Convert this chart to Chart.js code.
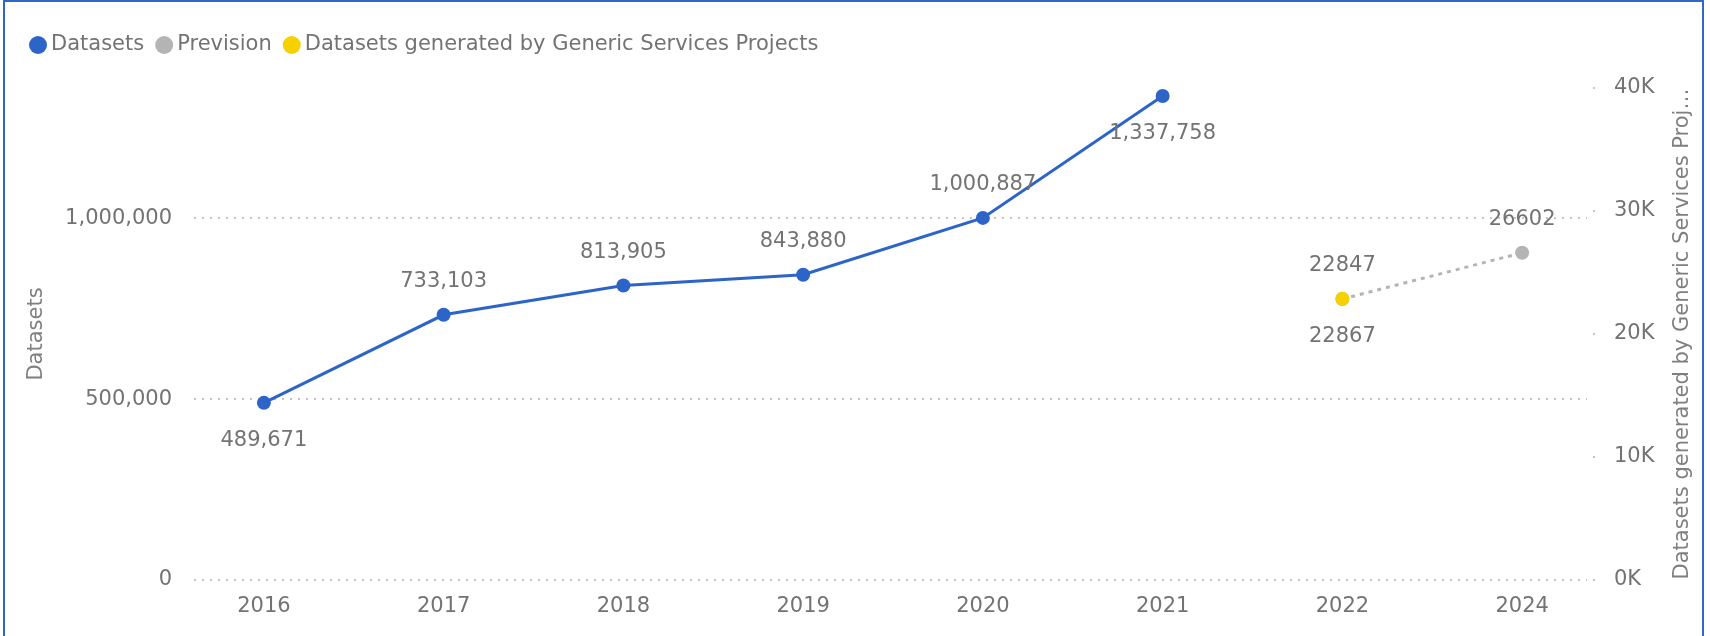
<!DOCTYPE html>
<html>
<head>
<meta charset="utf-8">
<script src="https://cdn.jsdelivr.net/npm/chart.js@4.4.1/dist/chart.umd.min.js"></script>
<style>
  html, body { margin: 0; padding: 0; background: #fff; }
  #wrap { position: relative; width: 1710px; height: 636px; overflow: hidden; }
  #lineChart { position: absolute; left: 0; top: 0; }
  /* blue frame round the visual */
  #frame { position: absolute; left: 3px; top: 0; width: 1701px; height: 660px;
           border: 2px solid #2f68c8; box-sizing: border-box; pointer-events: none; }
</style>
</head>
<body>
<div id="wrap">
  <canvas id="lineChart" width="1710" height="636"></canvas>
  <div id="frame"></div>
</div>
<script>
/* Data */
const years = ["2016", "2017", "2018", "2019", "2020", "2021", "2022", "2024"];
const datasetsCount = [489671, 733103, 813905, 843880, 1000887, 1337758, null, null];
const previsionCount = [null, null, null, null, null, null, 22847, 26602];
const genericCount = [null, null, null, null, null, null, 22867, null];
const leftTicks = [0, 500000, 1000000];
const rightTicks = [0, 10000, 20000, 30000, 40000];

const textGrey = "#737373";
const fontFamily = "'DejaVu Sans', Verdana, sans-serif";
const fontSize = 21;

Chart.defaults.font.family = fontFamily;
Chart.defaults.font.size = fontSize;
Chart.defaults.color = textGrey;

/* Value labels next to each point */
const valueLabels = {
  id: "valueLabels",
  afterDatasetsDraw(chart) {
    const c = chart.ctx;
    c.save();
    c.font = fontSize + "px " + fontFamily;
    c.fillStyle = textGrey;
    c.textAlign = "center";
    c.textBaseline = "middle";
    chart.data.datasets.forEach((ds, i) => {
      const meta = chart.getDatasetMeta(i);
      meta.data.forEach((pt, j) => {
        const v = ds.data[j];
        if (v == null) return;
        const below = ds.labelBelow.includes(j);
        const txt = ds.yAxisID === "y" ? v.toLocaleString("en-US") : String(v);
        c.fillText(txt, pt.x, pt.y + (below ? 38 : -33));
      });
    });
    c.restore();
  }
};

/* Dotted gridlines, a bit shorter than the plot area, plus the dot ticks of the right axis */
const dottedGrid = {
  id: "dottedGrid",
  beforeDatasetsDraw(chart) {
    const a = chart.chartArea;
    const c = chart.ctx;
    const ys = chart.scales.y;
    const y1 = chart.scales.y1;
    c.save();
    c.strokeStyle = "#c4c4c4";
    c.lineWidth = 2;
    c.setLineDash([2, 6]);
    leftTicks.forEach((v) => {
      const py = Math.round(ys.getPixelForValue(v));
      c.beginPath();
      c.moveTo(a.left + 20, py);
      c.lineTo(a.right - 25, py);
      c.stroke();
    });
    c.fillStyle = "#c4c4c4";
    rightTicks.forEach((v) => {
      const py = Math.round(y1.getPixelForValue(v));
      c.fillRect(a.right - 19, py - 1, 2, 2);
    });
    c.restore();
  }
};

/* Legend drawn by hand so the dots sit close to the text */
const dotLegend = {
  id: "dotLegend",
  afterDraw(chart) {
    const c = chart.ctx;
    c.save();
    c.font = fontSize + "px " + fontFamily;
    c.textBaseline = "middle";
    let x = 29;
    const y = 45;
    chart.data.datasets.forEach((ds) => {
      c.fillStyle = ds.pointBackgroundColor;
      c.beginPath();
      c.arc(x + 9, y, 9, 0, Math.PI * 2);
      c.fill();
      c.fillStyle = textGrey;
      c.fillText(ds.label, x + 22, y);
      x += 22 + c.measureText(ds.label).width + 11;
    });
    c.restore();
  }
};

/* Right axis title reads bottom to top */
const rightTitle = {
  id: "rightTitle",
  afterDraw(chart) {
    const a = chart.chartArea;
    const c = chart.ctx;
    c.save();
    c.translate(chart.scales.y1.right - 12, (a.top + a.bottom) / 2);
    c.rotate(-Math.PI / 2);
    c.font = fontSize + "px " + fontFamily;
    c.fillStyle = "#7f7f7f";
    c.textAlign = "center";
    c.textBaseline = "middle";
    c.fillText("Datasets generated by Generic Services Proj\u2026", 0, 0);
    c.restore();
  }
};

const ctx = document.getElementById("lineChart").getContext("2d");

const lineChart = new Chart(ctx, {
  type: "line",
  data: {
    labels: years,
    datasets: [
      {
        label: "Datasets",
        data: datasetsCount,
        yAxisID: "y",
        borderColor: "#2d64c8",
        backgroundColor: "#2d64c8",
        pointBackgroundColor: "#2d64c8",
        pointBorderWidth: 0,
        borderWidth: 3,
        pointRadius: 7,
        order: 0,
        labelBelow: [0, 5],
      },
      {
        label: "Prevision",
        data: previsionCount,
        yAxisID: "y1",
        borderColor: "#b4b4b4",
        backgroundColor: "#b4b4b4",
        pointBackgroundColor: "#b4b4b4",
        pointBorderWidth: 0,
        borderWidth: 3,
        borderDash: [4, 5],
        pointRadius: 7,
        order: 1,
        labelBelow: [],
      },
      {
        label: "Datasets generated by Generic Services Projects",
        data: genericCount,
        yAxisID: "y1",
        showLine: false,
        borderColor: "#f7d000",
        backgroundColor: "#f7d000",
        pointBackgroundColor: "#f7d000",
        pointBorderWidth: 0,
        pointRadius: 7,
        order: 0,
        labelBelow: [6],
      },
    ],
  },
  options: {
    responsive: false,
    animation: false,
    layout: { padding: { top: 88, left: 22, right: 15, bottom: 0 } },
    plugins: {
      legend: { display: false },
      tooltip: { enabled: false },
    },
    scales: {
      x: {
        type: "category",
        offset: true,
        grid: { display: false, drawTicks: false },
        border: { display: false },
        ticks: { autoSkip: false, maxRotation: 0, padding: 14, color: textGrey },
        afterFit(s) { s.height = 56; },
      },
      y: {
        position: "left",
        min: 0,
        max: 1360000,
        afterBuildTicks(s) { s.ticks = leftTicks.map((v) => ({ value: v })); },
        ticks: {
          padding: 2,
          color: textGrey,
          callback: (v) => v.toLocaleString("en-US"),
        },
        grid: { display: false, drawTicks: false },
        border: { display: false },
        title: {
          display: true,
          text: "Datasets",
          color: "#7f7f7f",
          font: { size: fontSize },
          padding: { top: 2, bottom: 0 },
        },
        afterFit(s) { s.width = 152; },
      },
      y1: {
        position: "right",
        min: 0,
        max: 40000,
        afterBuildTicks(s) { s.ticks = rightTicks.map((v) => ({ value: v })); },
        ticks: {
          padding: 2,
          color: textGrey,
          callback: (v) => v / 1000 + "K",
        },
        grid: { display: false, drawTicks: false },
        border: { display: false },
        afterFit(s) { s.width = 83; },
      },
    },
  },
  plugins: [dottedGrid, valueLabels, dotLegend, rightTitle],
});
</script>
</body>
</html>
